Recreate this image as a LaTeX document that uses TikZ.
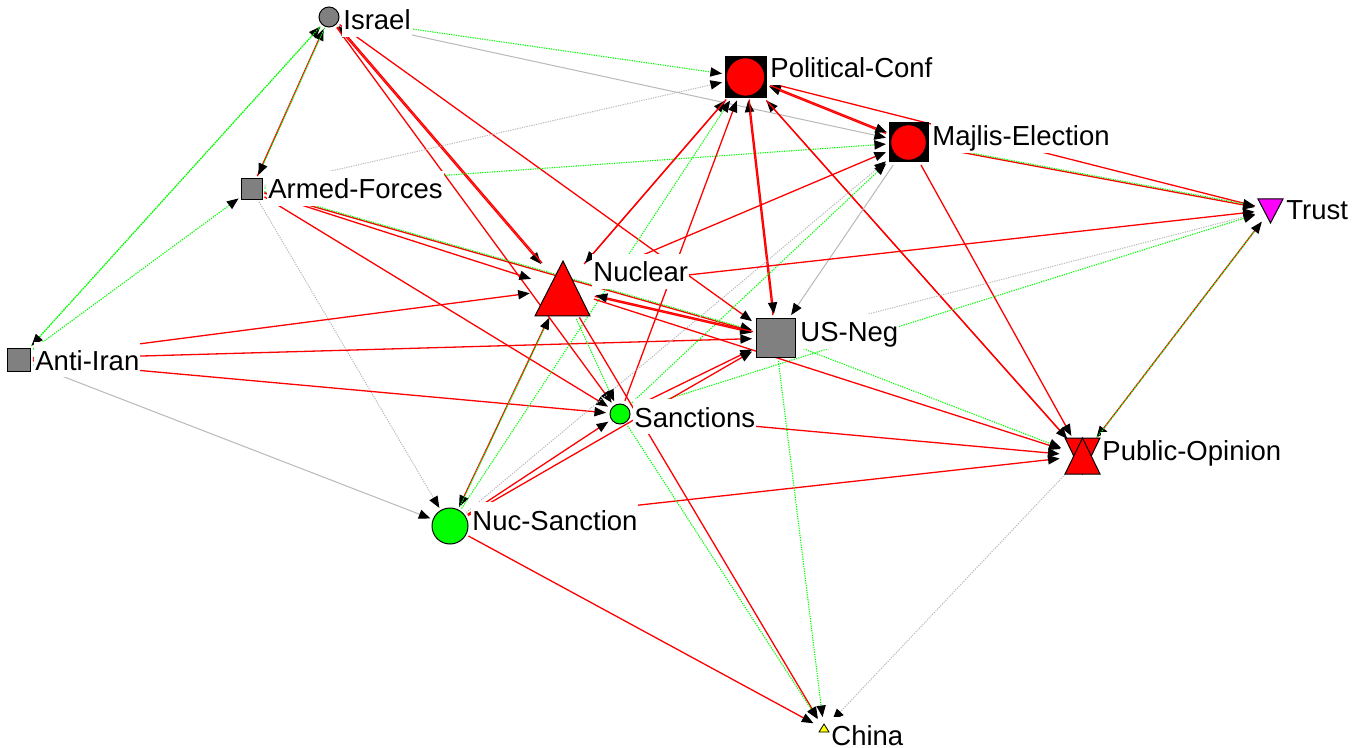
\documentclass[tikz,border=0pt]{standalone}
\usepackage{fontspec}
\setmainfont{Liberation Sans}
\usetikzlibrary{arrows.meta}
\pgfdeclarelayer{edges}
\pgfsetlayers{edges,main}
\definecolor{ered}{HTML}{FF0000}
\definecolor{egreen}{HTML}{00FF00}
\definecolor{egray}{HTML}{B8B8B8}
\definecolor{ngray}{HTML}{808080}
\definecolor{nmag}{HTML}{FF00FF}
\definecolor{nyel}{HTML}{FFFF00}
\tikzset{
  tipA/.style={-{Triangle[length=5.8pt,width=4.6pt,color=black]}},
  redE/.style={draw=ered, line width=0.65pt, tipA},
  grnE/.style={draw=egreen, line width=0.55pt, dash pattern=on 0.6pt off 0.6pt, tipA},
  gryE/.style={draw=egray, line width=0.5pt, tipA},
  gryD/.style={gryE, dash pattern=on 0.6pt off 0.6pt},
  sh/.style={transform canvas={shift={(0.5pt,0.5pt)}}},
  anc/.style={circle, inner sep=0pt, outer sep=0pt},
  sqnode/.style={rectangle, draw=black, line width=0.5pt, fill=ngray, inner sep=0pt, outer sep=1.2pt},
  cnode/.style={circle, draw=black, line width=0.5pt, inner sep=0pt, outer sep=1.5pt},
  lbl/.style={anchor=base west, fill=white, inner sep=0.5pt, text height=13.5pt, text depth=3pt,
              font=\fontsize{13.75pt}{16pt}\selectfont},
}
\begin{document}
\begin{tikzpicture}[x=0.5pt,y=-0.5pt]
\useasboundingbox (0,0) rectangle (1363,748);
% ---------- nodes ----------
\node[cnode, fill=ngray, minimum size=10pt] (I) at (329,17) {};
\node[sqnode, fill=black, minimum size=20.5pt, outer sep=1.5pt] (PC) at (745.5,77) {};
\fill[ered, draw=black, line width=0.3pt] (745.5,77) circle (9.5pt);
\node[sqnode, fill=black, minimum size=19.5pt, outer sep=1.5pt] (ME) at (908.5,142.5) {};
\fill[ered, draw=black, line width=0.3pt] (908.5,142.5) circle (8.8pt);
\node[anc, minimum size=16pt] (T) at (1270.5,210) {};
\filldraw[fill=nmag, draw=black, line width=0.5pt] (1258,199) -- (1283,199) -- (1270.5,223) -- cycle;
\node[sqnode, minimum size=10.5pt] (AF) at (251.5,189) {};
\node[anc, minimum size=33pt] (N) at (562.5,289) {};
\filldraw[fill=ered, draw=black, line width=0.5pt] (535,316) -- (563,261) -- (590,316) -- cycle;
\node[sqnode, minimum width=19.5pt, minimum height=19pt, outer sep=2pt] (U) at (775.5,338) {};
\node[sqnode, minimum size=11.5pt] (A) at (19,359.5) {};
\node[cnode, fill=egreen, minimum size=10pt, outer sep=2pt] (S) at (620,414) {};
\node[anc, minimum size=23pt] (P) at (1082.5,456) {};
\filldraw[fill=ered, draw=black, line width=0.5pt] (1065,438) -- (1100,438) -- (1082.5,474) -- cycle;
\filldraw[fill=ered, draw=black, line width=0.5pt] (1065,474) -- (1100,474) -- (1082.5,438) -- cycle;
\node[cnode, fill=egreen, minimum size=18pt] (NS) at (450,526) {};
\node[anc, minimum size=12pt] (C) at (824,729) {};
\filldraw[fill=nyel, draw=black, line width=0.4pt] (819,732) -- (829,732) -- (824,724) -- cycle;
% ---------- edges ----------
\begin{pgfonlayer}{edges}
\draw[redE] (AF) -- (I);
\draw[grnE, sh] (I) -- (AF);
\draw[grnE] (A) -- (I);
\draw[grnE] (I) -- (A);
\draw[grnE] (A) -- (AF);
\draw[grnE] (I) -- (PC);
\draw[gryE] (I) -- (ME);
\draw[redE] (I) -- (U);
\draw[redE] (I) -- (N);
\draw[redE, sh] (N) -- (I);
\draw[redE] (I) -- (S);
\draw[gryD] (AF) -- (PC);
\draw[grnE] (AF) -- (ME);
\draw[redE] (AF) -- (S);
\draw[redE] (AF) -- (N);
\draw[redE] (AF) -- (U);
\draw[grnE, transform canvas={shift={(0pt,0.6pt)}}] (AF) -- (U);
\draw[gryD] (AF) -- (NS);
\draw[redE] (A) -- (N);
\draw[redE] (A) -- (U);
\draw[redE] (A) -- (S);
\draw[gryE] (A) -- (NS);
\draw[redE] (T) -- (PC);
\draw[redE] (ME) -- (PC);
\draw[redE, sh] (PC) -- (ME);
\draw[redE] (N) -- (PC);
\draw[redE, sh] (PC) -- (N);
\draw[grnE] (NS) -- (PC);
\draw[redE] (S) -- (PC);
\draw[redE] (U) -- (PC);
\draw[redE, sh] (PC) -- (U);
\draw[redE] (P) -- (PC);
\draw[redE] (PC) -- (P);
\draw[redE] (N) -- (ME);
\draw[redE] (ME) -- (T);
\draw[grnE, transform canvas={shift={(0pt,0.6pt)}}] (ME) -- (T);
\draw[redE] (ME) -- (P);
\draw[gryE] (ME) -- (U);
\draw[gryD] (NS) -- (ME);
\draw[grnE] (S) -- (ME);
\draw[redE] (N) -- (T);
\draw[gryD] (U) -- (T);
\draw[grnE] (S) -- (T);
\draw[redE] (T) -- (P);
\draw[grnE, sh] (P) -- (T);
\draw[redE] (N) -- (U);
\draw[redE, sh] (U) -- (N);
\draw[redE] (N) -- (P);
\draw[grnE] (U) -- (P);
\draw[redE] (S) -- (P);
\draw[redE] (NS) -- (P);
\draw[gryD] (P) -- (C);
\draw[grnE] (U) -- (C);
\draw[redE] (N) -- (C);
\draw[grnE] (S) -- (C);
\draw[grnE] (N) -- (S);
\draw[redE] (NS) -- (S);
\draw[redE] (S) -- (U);
\draw[redE] (NS) -- (U);
\draw[redE] (N) -- (NS);
\draw[grnE, sh] (NS) -- (N);
\draw[redE] (NS) -- (C);
\end{pgfonlayer}
% ---------- labels ----------
\node[lbl] (lI) at (342,30) {Israel};
\node[lbl] (lPC) at (769,78) {Political-Conf};
\node[lbl] (lME) at (931,146) {Majlis-Election};
\node[lbl] (lT) at (1285,220) {Trust};
\node[lbl] (lAF) at (267,199) {Armed-Forces};
\node[lbl] (lA) at (34,370) {Anti-Iran};
\node[lbl] (lN) at (592,282) {Nuclear};
\node[lbl] (lU) at (799,342) {US-Neg};
\node[lbl] (lS) at (633,427) {Sanctions};
\node[lbl] (lP) at (1101,460) {Public-Opinion};
\node[lbl] (lNS) at (471,530) {Nuc-Sanction};
\node[lbl] (lC) at (830,745) {China};
\end{tikzpicture}
\end{document}
